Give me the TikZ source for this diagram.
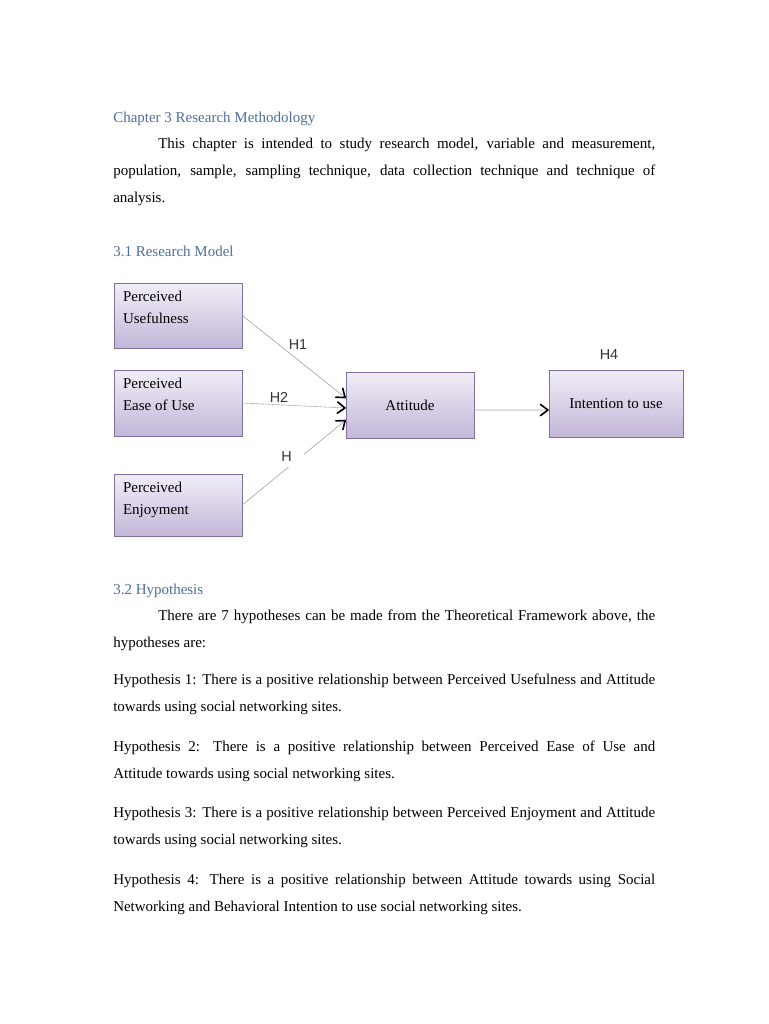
\documentclass[tikz,border=0pt]{standalone}
\usepackage{fontspec}
\setmainfont{Liberation Serif}
\newfontfamily\hfont{Liberation Sans}
\usetikzlibrary{arrows.meta,calc,shadows}
\definecolor{headblue}{RGB}{79,111,160}
\definecolor{boxtop}{RGB}{241,237,247}
\definecolor{boxbot}{RGB}{194,183,216}
\definecolor{boxline}{RGB}{128,112,160}
\definecolor{linkgray}{RGB}{165,165,165}
\newcommand\jline[1]{\makebox[433.6pt][s]{#1}}
\newcommand\jindent[1]{\makebox[397.6pt][s]{#1}}
\tikzset{
    para/.style={anchor=base west, inner sep=0pt, font=\fontsize{12}{14}\selectfont},
    head/.style={para, text=headblue},
    model/.style={draw=boxline, top color=boxtop, bottom color=boxbot,
        minimum width=102.4pt, minimum height=52pt,
        drop shadow={shadow xshift=1pt, shadow yshift=-1pt, opacity=0.6, fill=black!70},
        font=\fontsize{12}{17.6}\selectfont},
    boxtext/.style={anchor=north west, align=left, inner sep=0pt, font=\fontsize{12}{17.6}\selectfont},
    hyp/.style={font=\hfont\fontsize{11.5}{13}\selectfont, text=black!80, inner sep=1pt},
    link/.style={draw=linkgray, line width=0.5pt,
        -{Straight Barb[length=6pt, width=9pt, line width=1.3pt, round, color=black]}},
}
\begin{document}
\begin{tikzpicture}[x=0.8pt, y=-0.8pt]
    \useasboundingbox[fill=white] (0,0) rectangle (768,1024);
    %% chapter heading and introduction
    \node[head] (chap) at (113,123) {Chapter 3 Research Methodology};
    \node[para] (intro1) at (158,149) {\jindent{This chapter is intended to study research model, variable and measurement,}};
    \node[para] (intro2) at (113,176) {\jline{population, sample, sampling technique, data collection technique and technique of}};
    \node[para] (intro3) at (113,203) {analysis.};
    \node[head] (sec1) at (113,257) {3.1 Research Model};

    %% research model
    \node[model] (pu) at (178,315.5) {};
    \node[model, minimum height=52.8pt] (peou) at (178,403) {};
    \node[model, minimum height=49.6pt] (penj) at (178,505) {};
    \node[model, minimum height=52.8pt] (att) at (410,405) {Attitude};
    \node[model, minimum width=107.2pt, minimum height=53.6pt] (intent) at (616,403.5) {Intention to use};
    \node[boxtext] (putext) at ($(pu.north west)+(9,8)$) {Perceived\\Usefulness};
    \node[boxtext] (peoutext) at ($(peou.north west)+(9,8)$) {Perceived\\Ease of Use};
    \node[boxtext] (penjtext) at ($(penj.north west)+(9,8)$) {Perceived\\Enjoyment};

    \draw[link] (pu.east) -- ($(att.west)+(0,-7)$);
    \draw[link, dash pattern=on 2pt off 0.6pt] (peou.east) -- ($(att.west)+(0,3)$);
    \draw[link] (penj.east) -- ($(att.west)+(0,15)$);
    \draw[link] ($(att.east)+(0,5)$) -- ($(intent.west)+(0,6.5)$);

    \node[hyp] (h1) at (298,345) {H1};
    \node[hyp] (h2) at (279,397) {H2};
    \node[hyp, fill=white, minimum width=19pt, minimum height=16pt, text width=17pt, align=left] (h3) at (292,457) {H};
    \node[hyp] (h4) at (609,355) {H4};

    %% hypotheses
    \node[head] (sec2) at (113,594) {3.2 Hypothesis};
    \node[para] (hyp0a) at (158,620) {\jindent{There are 7 hypotheses can be made from the Theoretical Framework above, the}};
    \node[para] (hyp0b) at (113,647) {hypotheses are:};
    \node[para] (hyp1a) at (113,684) {\jline{Hypothesis 1: There is a positive relationship between Perceived Usefulness and Attitude}};
    \node[para] (hyp1b) at (113,711) {towards using social networking sites.};
    \node[para] (hyp2a) at (113,751) {\jline{Hypothesis 2: There is a positive relationship between Perceived Ease of Use and}};
    \node[para] (hyp2b) at (113,778) {Attitude towards using social networking sites.};
    \node[para] (hyp3a) at (113,817) {\jline{Hypothesis 3: There is a positive relationship between Perceived Enjoyment and Attitude}};
    \node[para] (hyp3b) at (113,844) {towards using social networking sites.};
    \node[para] (hyp4a) at (113,884) {\jline{Hypothesis 4: There is a positive relationship between Attitude towards using Social}};
    \node[para] (hyp4b) at (113,911) {Networking and Behavioral Intention to use social networking sites.};
\end{tikzpicture}
\end{document}
